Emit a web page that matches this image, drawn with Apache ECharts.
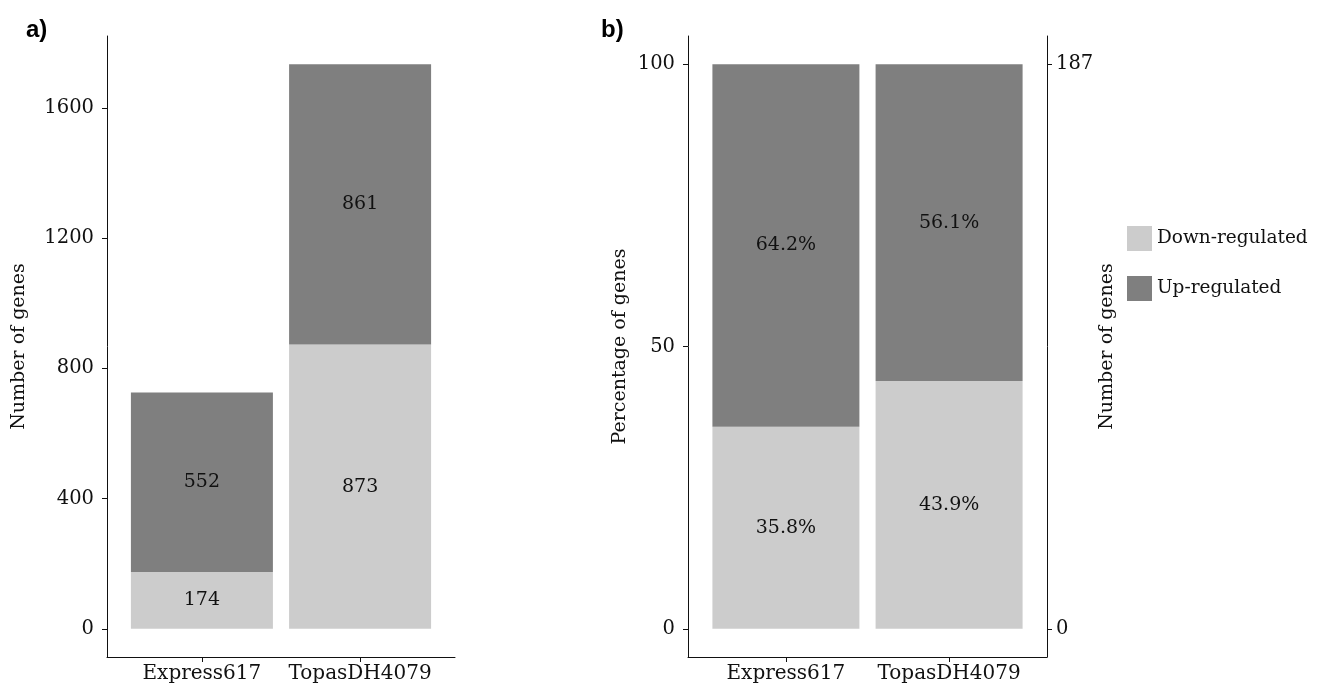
<!DOCTYPE html>
<html>
<head>
<meta charset="utf-8">
<title>Differentially expressed genes</title>
<script src="https://cdn.jsdelivr.net/npm/echarts@6/dist/echarts.min.js"></script>
<style>
  html, body { margin: 0; padding: 0; background: #fff; }
  #chart { width: 1322px; height: 686px; }
</style>
</head>
<body>
<div id="chart"></div>
<script>
// Genotypes on the x axis
const categories = ['Express617', 'TopasDH4079'];

// Panel a: gene counts
const countDown = [174, 873];
const countUp = [552, 861];
const countTicks = [0, 400, 800, 1200, 1600];

// Panel b: share of genes (%)
const pctDown = [35.8, 43.9];
const pctUp = [64.2, 56.1];
const pctTicks = [0, 50, 100];
const totalTicks = [0, 187];

const seriesNames = ['Down-regulated', 'Up-regulated'];
const colorDown = '#cccccc';
const colorUp = '#7f7f7f';

const FONT = 'DejaVu Serif';
const TXT = '#111111';
const AXIS = '#111111';

const catPos = categories.map((_, i) => i + 1);
const topCount = Math.max(...countDown.map((d, i) => d + countUp[i]));
const padCount = topCount * 0.05;
const totalMax = totalTicks[totalTicks.length - 1];

function xAxisFor(gridIndex) {
  return {
    type: 'value', gridIndex, min: 0.4, max: 2.6,
    splitLine: { show: false },
    axisLine: { show: true, onZero: false, lineStyle: { color: AXIS, width: 1 } },
    axisTick: { show: true, customValues: catPos, length: 5, lineStyle: { color: AXIS } },
    axisLabel: {
      customValues: catPos, margin: 7,
      formatter: v => categories[Math.round(v) - 1] || '',
      color: TXT, fontFamily: FONT, fontSize: 20
    }
  };
}

function yAxisFor(gridIndex, min, max, ticks, name, nameGap, position, margin) {
  return {
    type: 'value', gridIndex, min, max, position,
    name, nameLocation: 'middle', nameGap, nameRotate: 90,
    nameTextStyle: { color: TXT, fontFamily: FONT, fontSize: 19 },
    splitLine: { show: false },
    axisLine: { show: true, onZero: false, lineStyle: { color: AXIS, width: 1 } },
    axisTick: { show: true, customValues: ticks, length: 5, lineStyle: { color: AXIS } },
    axisLabel: {
      customValues: ticks, margin, color: TXT, fontFamily: FONT, fontSize: 19.5,
      formatter: v => String(v)
    }
  };
}

const labelStyle = (fmt) => ({
  show: true, position: 'inside', color: TXT,
  fontFamily: FONT, fontSize: 19, formatter: fmt
});

// Each item is [value, position]; encode maps the value column to y so
// that the stack accumulates along the value dimension.
function barSeries(name, values, color, xi, yi, stack, width, fmt) {
  return {
    type: 'bar', name, stack, xAxisIndex: xi, yAxisIndex: yi,
    barWidth: width,
    dimensions: ['value', 'pos'],
    encode: { x: 'pos', y: 'value' },
    data: values.map((v, i) => [v, catPos[i]]),
    itemStyle: { color },
    label: labelStyle(fmt),
    emphasis: { disabled: true },
    animation: false
  };
}

const chart = echarts.init(document.getElementById('chart'), null, { renderer: 'canvas' });
chart.setOption({
  backgroundColor: '#ffffff',
  animation: false,
  title: [
    { text: 'a)', left: 21, top: 13, textStyle: { fontFamily: 'Liberation Sans', fontWeight: 'bold', fontSize: 24, color: '#000' } },
    { text: 'b)', left: 596, top: 13, textStyle: { fontFamily: 'Liberation Sans', fontWeight: 'bold', fontSize: 24, color: '#000' } }
  ],
  legend: {
    orient: 'vertical', left: 1127, top: 226, padding: 0,
    itemWidth: 25, itemHeight: 25, itemGap: 25,
    icon: 'rect', data: seriesNames,
    textStyle: { color: TXT, fontFamily: FONT, fontSize: 18.5 },
    selectedMode: false
  },
  grid: [
    { left: 107, right: 1322 - 455, top: 36, bottom: 29 },
    { left: 688, right: 1322 - 1047, top: 36, bottom: 29 }
  ],
  xAxis: [xAxisFor(0), xAxisFor(1)],
  yAxis: [
    yAxisFor(0, -padCount, topCount + padCount, countTicks, 'Number of genes', 78, 'left', 13),
    yAxisFor(1, -5, 105, pctTicks, 'Percentage of genes', 58, 'left', 13),
    yAxisFor(1, -totalMax * 0.05, totalMax * 1.05, totalTicks, 'Number of genes', 42, 'right', 9)
  ],
  series: [
    barSeries(seriesNames[0], countDown, colorDown, 0, 0, 'count', 142, p => p.value[0]),
    barSeries(seriesNames[1], countUp, colorUp, 0, 0, 'count', 142, p => p.value[0]),
    barSeries(seriesNames[0], pctDown, colorDown, 1, 1, 'pct', 147, p => p.value[0].toFixed(1) + '%'),
    barSeries(seriesNames[1], pctUp, colorUp, 1, 1, 'pct', 147, p => p.value[0].toFixed(1) + '%')
  ]
});
</script>
</body>
</html>
